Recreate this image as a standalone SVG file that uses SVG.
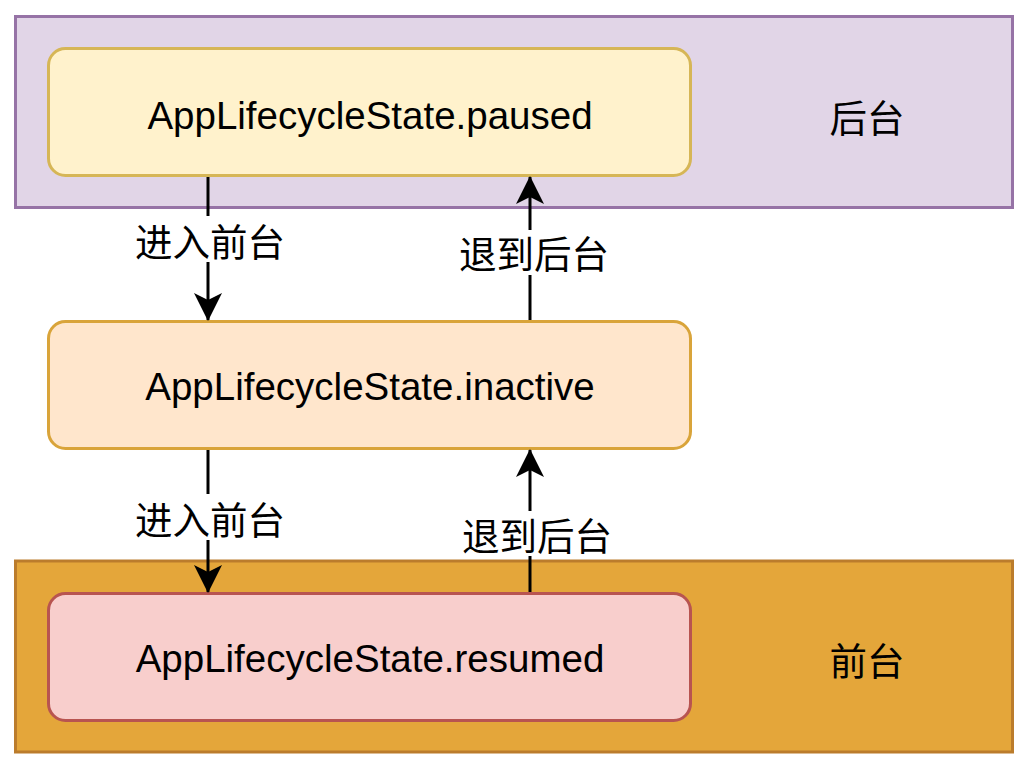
<svg xmlns="http://www.w3.org/2000/svg" width="1030" height="772" viewBox="0 0 1030 772">
<defs>
<style>
.t{font-family:"Liberation Sans","Noto Sans CJK SC",sans-serif;font-size:38.5px;fill:#000;text-anchor:middle;dominant-baseline:central}
.c{font-family:"Noto Sans CJK SC","Liberation Sans",sans-serif;font-size:37.5px;fill:#000;text-anchor:middle;dominant-baseline:central}
.e{stroke:#000;stroke-width:3;fill:none}
</style>
<marker id="ah" viewBox="0 0 28 28" refX="27" refY="14" markerWidth="28" markerHeight="28" markerUnits="userSpaceOnUse" orient="auto">
<path d="M0,0 L28,14 L0,28 L7,14 Z" fill="#000"/>
</marker>
</defs>
<rect width="1030" height="772" fill="#fff"/>
<g id="background-zone">
<rect x="15.5" y="16.5" width="997" height="191" fill="#e1d5e7" stroke="#9673a6" stroke-width="3"/>
<text class="c" x="867" y="115">后台</text>
</g>
<g id="foreground-zone">
<rect x="15.5" y="561" width="997" height="191" fill="#e4a63a" stroke="#bb7c2c" stroke-width="3"/>
<text class="c" x="867" y="658">前台</text>
</g>
<g id="paused">
<rect x="48.5" y="48.5" width="642" height="127" rx="17" fill="#fff2cc" stroke="#d6b656" stroke-width="3"/>
<text class="t" x="370" y="115">AppLifecycleState.paused</text>
</g>
<g id="inactive">
<rect x="48.5" y="321.5" width="642" height="127" rx="17" fill="#ffe6cc" stroke="#d9a43a" stroke-width="3"/>
<text class="t" x="370" y="386">AppLifecycleState.inactive</text>
</g>
<g id="resumed">
<rect x="48.5" y="593.5" width="642" height="127" rx="17" fill="#f8cecc" stroke="#b85450" stroke-width="3"/>
<text class="t" x="370" y="658">AppLifecycleState.resumed</text>
</g>
<g id="connectors">
<line class="e" x1="208" y1="177" x2="208" y2="320" marker-end="url(#ah)"/>
<rect x="131" y="216" width="158" height="46" fill="#fff"/>
<text class="c" x="210" y="239">进入前台</text>
<line class="e" x1="530" y1="320" x2="530" y2="177" marker-end="url(#ah)"/>
<rect x="455" y="230" width="158" height="45" fill="#fff"/>
<text class="c" x="534" y="251">退到后台</text>
<line class="e" x1="208" y1="450" x2="208" y2="592" marker-end="url(#ah)"/>
<rect x="131" y="494" width="158" height="46" fill="#fff"/>
<text class="c" x="210" y="517">进入前台</text>
<line class="e" x1="530" y1="592" x2="530" y2="450" marker-end="url(#ah)"/>
<rect x="458" y="511" width="158" height="45" fill="#fff"/>
<text class="c" x="537" y="533">退到后台</text>
</g>
</svg>
